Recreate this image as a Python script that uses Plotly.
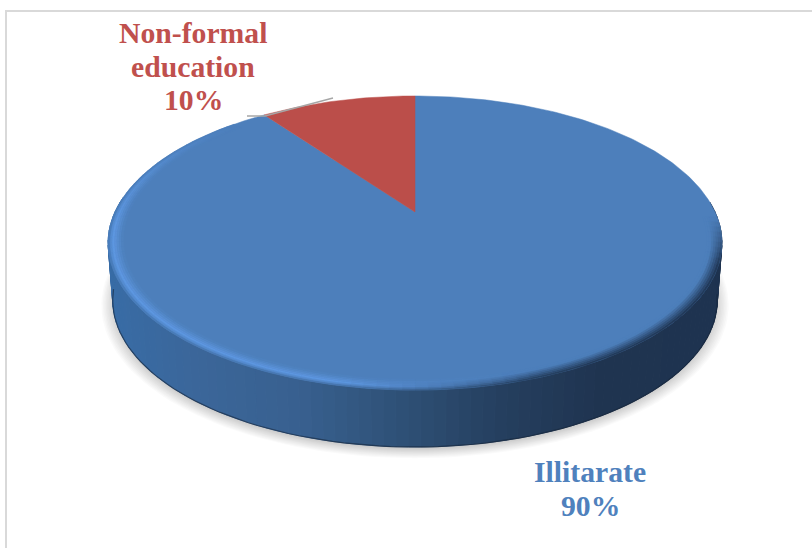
import math
import numpy as np
import plotly.graph_objects as go

labels = [["Illitarate"], ["Non-formal", "education"]]
shares = [90, 10]
label_colors = ["#4f81bd", "#c0504d"]
face_colors = ["#4d7fbb", "#bb4e4a"]

W, H = 812, 548
CX, CY = 415.0, 212.0
A, B, K = 300.0, 140.5, 0.2108
DEPTH, BOTTOM_SCALE = 57.0, 0.985
FACE = (0x4d, 0x7f, 0xbb)
HIGHLIGHT = (0x5e, 0x98, 0xe2)
WALL_X = [108, 200, 300, 415, 500, 600, 722]
WALL_C = [(0x38, 0x6c, 0xa6), (0x3b, 0x66, 0x99), (0x38, 0x60, 0x8f),
          (0x2d, 0x4e, 0x73), (0x25, 0x3f, 0x5f), (0x1f, 0x34, 0x50), (0x1e, 0x33, 0x50)]


def proj(r, theta, bottom=False):
    v = r * np.cos(theta)
    u = r * np.sin(theta)
    w = 1 + K * v
    x = A * u / w
    y = -B * v / w
    if bottom:
        return CX + BOTTOM_SCALE * x, CY + y + DEPTH
    return CX + x, CY + y


def mix(a, b, t):
    t = min(1.0, max(0.0, t))
    return tuple(a[i] + (b[i] - a[i]) * t for i in range(3))


def css(c):
    return "rgb(%d,%d,%d)" % tuple(round(v) for v in c)


def wall_color(x):
    return tuple(float(np.interp(x, WALL_X, [c[i] for c in WALL_C])) for i in range(3))


def poly(xs, ys, color, lw=1.0):
    xs, ys = list(xs), list(ys)
    return go.Scatter(x=xs + xs[:1], y=ys + ys[:1], mode="lines", fill="toself", fillcolor=color,
                      line=dict(color=color, width=lw),
                      hoverinfo="skip", showlegend=False)


fig = go.Figure()

# soft shadow under the disc
full = np.linspace(0, 2 * math.pi, 181)
for i in range(12):
    grow = 1.036 - i * 0.0045
    x, y = proj(grow, full, bottom=True)
    fig.add_trace(go.Scatter(x=x, y=y + 3.0, mode="lines", fill="toself",
                             fillcolor="rgba(0,0,0,0.02)", line=dict(width=0),
                             hoverinfo="skip", showlegend=False))

# side wall
edges = np.radians(np.linspace(86, 276, 101))
for t0, t1 in zip(edges[:-1], edges[1:]):
    x0, y0 = proj(1, np.array([t0, t1]))
    x1, y1 = proj(1, np.array([t1, t0]), bottom=True)
    col = wall_color((x0.mean() + x1.mean()) / 2)
    fig.add_trace(poly(list(x0) + list(x1), list(y0) + list(y1), css(col)))
bx, by = proj(1, np.radians(np.linspace(100, 262, 90)), bottom=True)
fig.add_trace(go.Scatter(x=bx, y=by, mode="lines", line=dict(color="rgba(22,36,56,0.6)", width=1.2),
                         hoverinfo="skip", showlegend=False))

# top face: one wedge per share, clockwise from twelve o'clock
total = sum(shares)
start = 0.0
for share, color in zip(shares, face_colors):
    end = start + share / total * 2 * math.pi
    th = np.linspace(start, end, max(8, int(share * 4)))
    x, y = proj(1, th)
    fig.add_trace(poly([CX] + list(x), [CY] + list(y), color, lw=0.5))
    start = end

# bevel along the front of the rim
rings = np.linspace(1.0, 0.952, 8)
rim = np.radians(np.linspace(92, 316, 113))
for r0, r1 in zip(rings[:-1], rings[1:]):
    t = (1 - (r0 + r1) / 2) / (1 - rings[-1])
    for a0, a1 in zip(rim[:-1], rim[1:]):
        deg = math.degrees((a0 + a1) / 2)
        xo, yo = proj(r0, np.array([a0, a1]))
        xi, yi = proj(r1, np.array([a1, a0]))
        mx = float(xo.mean())
        wall = wall_color(mx)
        dark = mix(wall, FACE, t * 1.25)
        if t < 0.32:
            light = mix(mix(wall, FACE, 0.5), HIGHLIGHT, t / 0.32)
        else:
            light = mix(HIGHLIGHT, FACE, (t - 0.32) / 0.68)
        col = mix(dark, light, (540 - mx) / 200)
        fade = min((deg - 92) / 18, (316 - deg) / 50, 1.0)
        col = mix(FACE, col, fade)
        fig.add_trace(poly(list(xo) + list(xi), list(yo) + list(yi), css(col), lw=0.5))

# leader line of the small slice
fig.add_trace(go.Scatter(x=[247, 265, 333], y=[116, 116, 98], mode="lines",
                         line=dict(color="#a6a6a6", width=1.5),
                         hoverinfo="skip", showlegend=False))

# frame: open on the right, runs off the bottom
fig.add_trace(go.Scatter(x=[6, 6, W + 5], y=[H + 5, 11, 11], mode="lines",
                         line=dict(color="#d9d9d9", width=2),
                         hoverinfo="skip", showlegend=False))

# data labels: text lines stacked at the reference's tighter spacing
anchors = [(590, 472), (193, 33)]
LINE_GAP = 33.5
annotations = []
for lines, share, col, (ax, ay) in zip(labels, shares, label_colors, anchors):
    for i, line in enumerate(lines + [f"{share}%"]):
        annotations.append(dict(x=ax, y=ay + i * LINE_GAP, xref="x", yref="y", showarrow=False,
                                text=f"<b>{line}</b>",
                                font=dict(family="Liberation Serif", size=29.7, color=col)))

fig.update_layout(
    width=W, height=H, margin=dict(l=0, r=0, t=0, b=0),
    paper_bgcolor="white", plot_bgcolor="white", showlegend=False,
    xaxis=dict(range=[0, W], visible=False, fixedrange=True),
    yaxis=dict(range=[H, 0], visible=False, fixedrange=True),
    annotations=annotations,
)
fig.write_html("out.html", config=dict(displayModeBar=False),
               post_script="document.body.style.margin='0';")
